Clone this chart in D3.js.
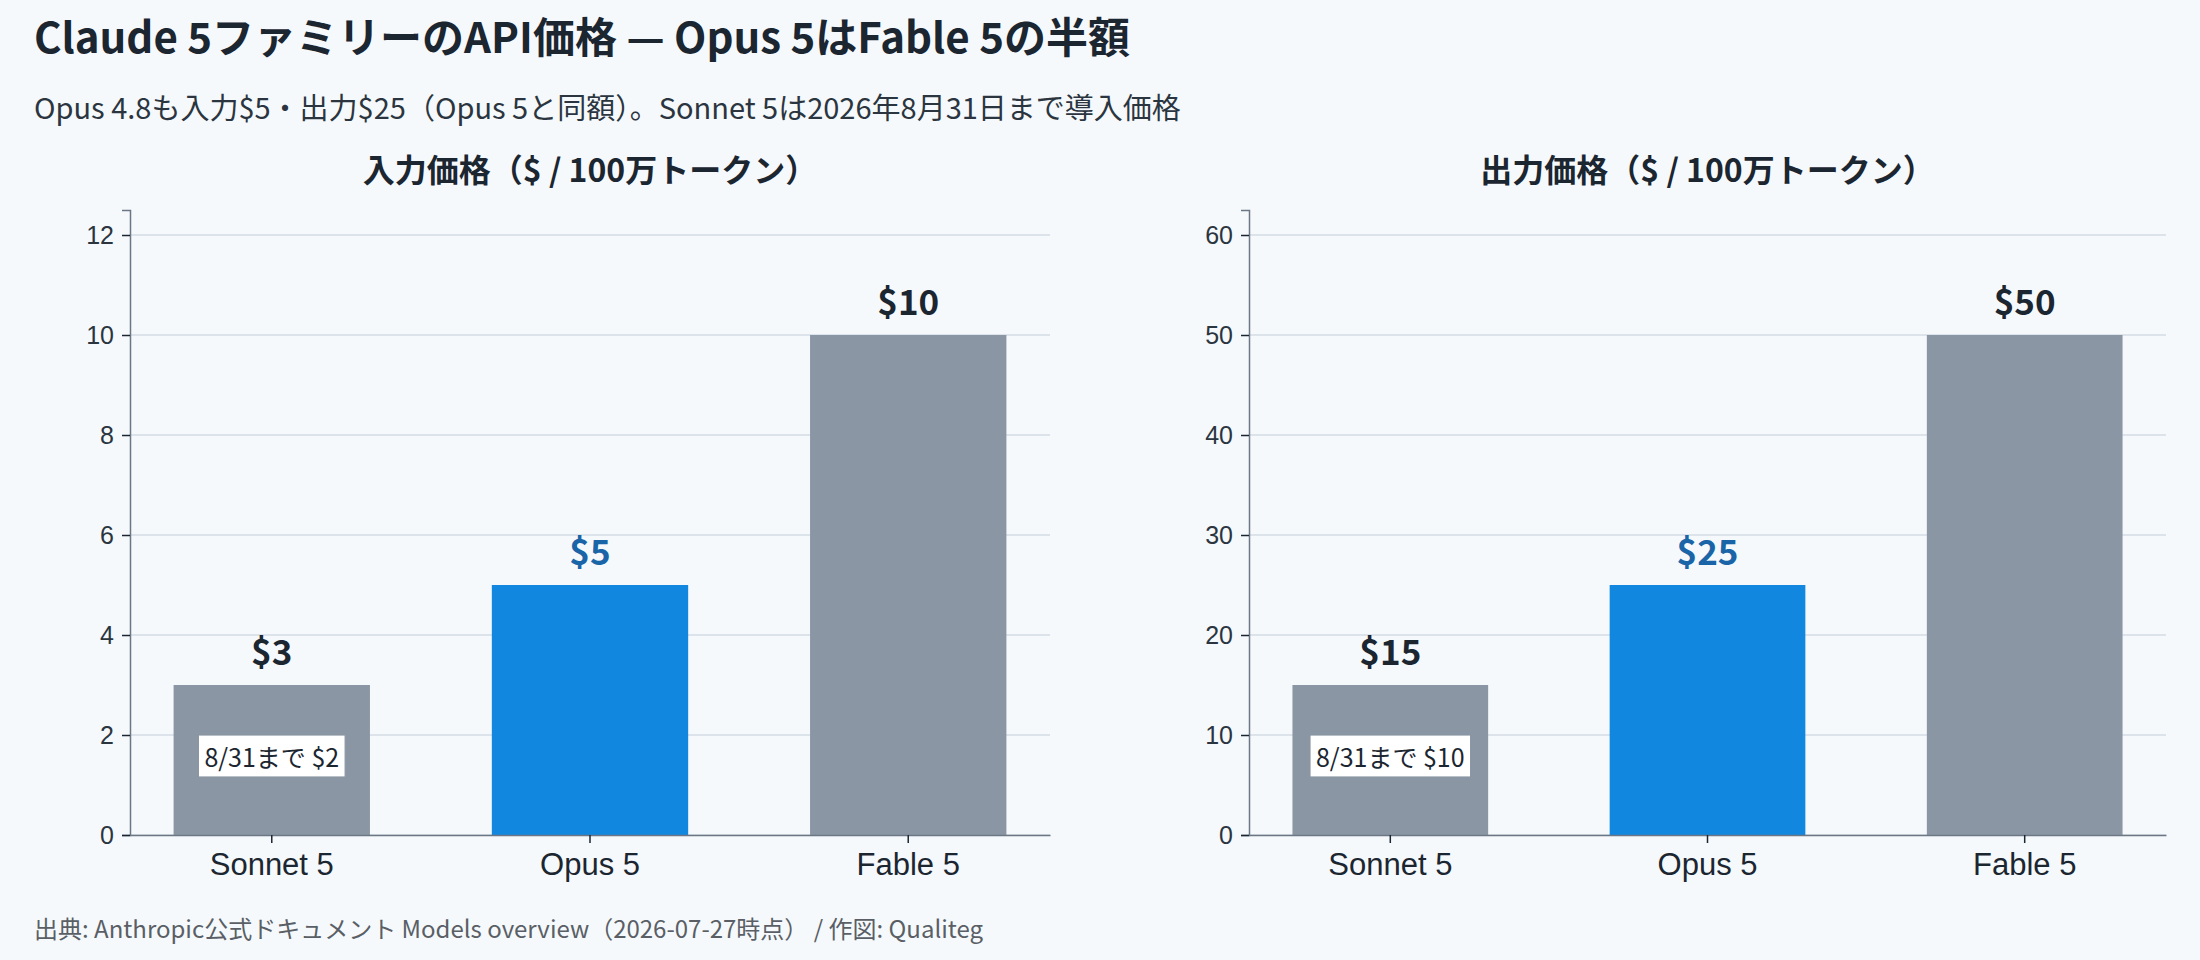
<!DOCTYPE html>
<html><head><meta charset="utf-8">
<script src="https://cdn.jsdelivr.net/npm/d3@7"></script>
<style>
body{margin:0;background:#f5f9fc;font-family:"Noto Sans CJK JP","Noto Sans",sans-serif;}
</style></head>
<body><svg id="c" width="2200" height="960"></svg>
<script>
const models = ["Sonnet 5", "Opus 5", "Fable 5"];
const inputPrice = [3, 5, 10];
const outputPrice = [15, 25, 50];
const introPrice = [2, 10]; // Sonnet 5 until 8/31 (input, output)
const inputTicks = [0, 2, 4, 6, 8, 10, 12];
const outputTicks = [0, 10, 20, 30, 40, 50, 60];

const svg = d3.select("#c");
const dark = "#1b2631";

svg.append("text").attr("x", 34).attr("y", 53).attr("font-size", 42).attr("font-weight", 700)
  .attr("fill", dark).text("Claude 5ファミリーのAPI価格 — Opus 5はFable 5の半額");
svg.append("text").attr("x", 34).attr("y", 119).attr("font-size", 29).attr("fill", "#2b3540")
  .text("Opus 4.8も入力$5・出力$25（Opus 5と同額）。Sonnet 5は2026年8月31日まで導入価格");
svg.append("text").attr("x", 34).attr("y", 938).attr("font-size", 24).attr("fill", "#5a5f66")
  .text("出典: Anthropic公式ドキュメント Models overview（2026-07-27時点） / 作図: Qualiteg");

const drawPanel = (x0, x1, title, values, ticks, max, intro) => {
  const y = d3.scaleLinear().domain([0, max]).range([835, 210]);
  const x = d3.scaleBand().domain(models).range([x0, x1]).paddingInner(0.383).paddingOuter(0.137);
  const g = svg.append("g");

  g.append("text").attr("x", (x0 + x1) / 2).attr("y", 182).attr("text-anchor", "middle")
    .attr("font-size", 32).attr("font-weight", 700).attr("fill", dark).text(title);

  g.selectAll(".grid").data(ticks).join("line")
    .attr("x1", x0).attr("x2", x1).attr("y1", d => y(d)).attr("y2", d => y(d))
    .attr("stroke", "#d5dbe5").attr("stroke-width", 1.5);

  g.selectAll(".bar").data(values).join("rect")
    .attr("x", (d, i) => x(models[i])).attr("width", x.bandwidth())
    .attr("y", d => y(d)).attr("height", d => y(0) - y(d))
    .attr("fill", (d, i) => i === 1 ? "#1187e0" : "#8a96a3");

  g.selectAll(".val").data(values).join("text")
    .attr("x", (d, i) => x(models[i]) + x.bandwidth() / 2).attr("y", d => y(d) - 20)
    .attr("text-anchor", "middle").attr("font-size", 35).attr("font-weight", 700)
    .attr("fill", (d, i) => i === 1 ? "#1a64a8" : dark).text(d => "$" + d);

  // intro price note on Sonnet bar
  const cx = x(models[0]) + x.bandwidth() / 2;
  const note = g.append("g");
  const t = note.append("text").attr("x", cx).attr("y", 767).attr("text-anchor", "middle")
    .attr("font-size", 25).attr("fill", dark).text("8/31まで $" + intro);
  const bb = t.node().getBBox();
  note.insert("rect", "text").attr("x", bb.x - 6).attr("y", bb.y - 3)
    .attr("width", bb.width + 12).attr("height", bb.height + 6)
    .attr("fill", "#fff").attr("stroke", "#8a96a3").attr("stroke-width", 1.2);

  const ya = g.append("g").attr("transform", `translate(${x0},0)`)
    .call(d3.axisLeft(y).tickValues(ticks).tickSize(8).tickPadding(8));
  ya.select(".domain").attr("stroke", "#6b7785").attr("stroke-width", 1.5);
  ya.selectAll(".tick line").attr("stroke", dark).attr("stroke-width", 1.5);
  ya.selectAll("text").attr("font-size", 25).attr("fill", "#2b3540").attr("font-family", "inherit");

  const xa = g.append("g").attr("transform", `translate(0,${y(0)})`)
    .call(d3.axisBottom(x).tickSize(8).tickPadding(10).tickSizeOuter(0));
  xa.select(".domain").attr("stroke", "#6b7785").attr("stroke-width", 1.5);
  xa.selectAll(".tick line").attr("stroke", dark).attr("stroke-width", 1.5);
  xa.selectAll("text").attr("font-size", 31).attr("fill", dark).attr("font-family", "inherit");
};

drawPanel(130, 1050, "入力価格（$ / 100万トークン）", inputPrice, inputTicks, 12.5, introPrice[0]);
drawPanel(1249, 2166, "出力価格（$ / 100万トークン）", outputPrice, outputTicks, 62.5, introPrice[1]);
</script></body></html>
